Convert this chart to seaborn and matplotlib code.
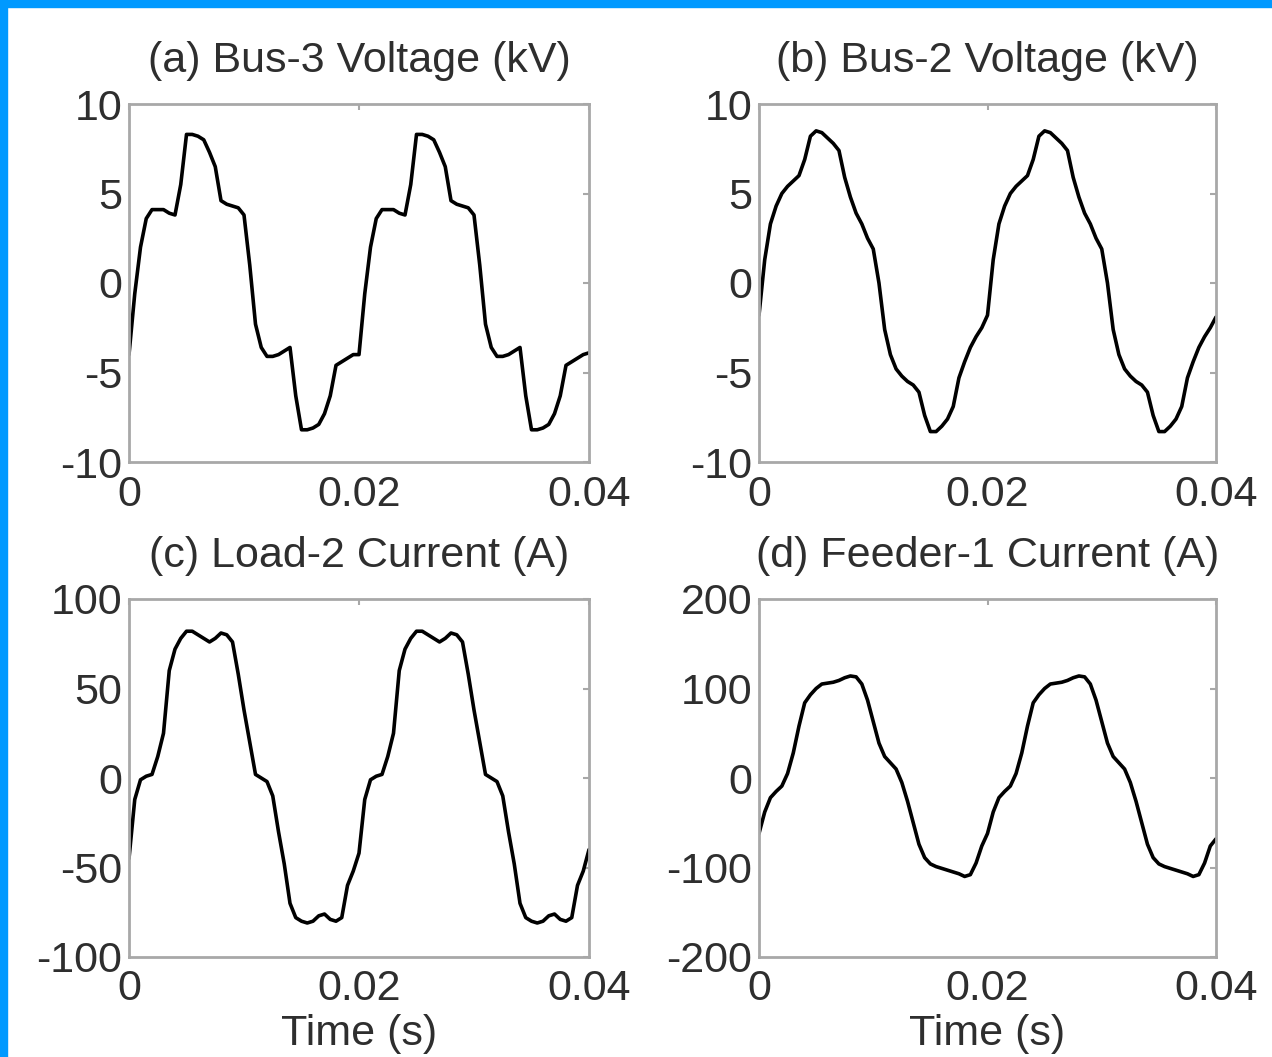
import numpy as np
import pandas as pd
import seaborn as sns
from matplotlib import pyplot as plt
from matplotlib.patches import Rectangle

# sample times, 0.5 ms grid over two 50 Hz cycles
time_s = np.linspace(0, 0.04, 81)

bus3_kv = [-4.0, -0.6, 2.0, 3.6, 4.1, 4.1, 4.1, 3.9, 3.8, 5.5,
           8.3, 8.3, 8.2, 8.0, 7.3, 6.5, 4.6, 4.4, 4.3, 4.2,
           3.8, 1.0, -2.3, -3.6, -4.1, -4.1, -4.0, -3.8, -3.6, -6.3,
           -8.2, -8.2, -8.1, -7.9, -7.3, -6.3, -4.6, -4.4, -4.2, -4.0,
           -4.0, -0.6, 2.0, 3.6, 4.1, 4.1, 4.1, 3.9, 3.8, 5.5,
           8.3, 8.3, 8.2, 8.0, 7.3, 6.5, 4.6, 4.4, 4.3, 4.2,
           3.8, 1.0, -2.3, -3.6, -4.1, -4.1, -4.0, -3.8, -3.6, -6.3,
           -8.2, -8.2, -8.1, -7.9, -7.3, -6.3, -4.6, -4.4, -4.2, -4.0,
           -3.9]

bus2_kv = [-1.8, 1.3, 3.3, 4.3, 5.0, 5.4, 5.7, 6.0, 6.9, 8.2,
           8.5, 8.4, 8.1, 7.8, 7.4, 5.9, 4.8, 3.9, 3.3, 2.5,
           1.9, 0.0, -2.6, -4.0, -4.8, -5.2, -5.5, -5.7, -6.1, -7.4,
           -8.3, -8.3, -8.0, -7.6, -6.9, -5.3, -4.4, -3.6, -3.0, -2.5,
           -1.8, 1.3, 3.3, 4.3, 5.0, 5.4, 5.7, 6.0, 6.9, 8.2,
           8.5, 8.4, 8.1, 7.8, 7.4, 5.9, 4.8, 3.9, 3.3, 2.5,
           1.9, 0.0, -2.6, -4.0, -4.8, -5.2, -5.5, -5.7, -6.1, -7.4,
           -8.3, -8.3, -8.0, -7.6, -6.9, -5.3, -4.4, -3.6, -3.0, -2.5,
           -1.9]

load2_a = [-45, -12, -1, 1, 2, 12, 25, 60, 72, 78,
           82, 82, 80, 78, 76, 78, 81, 80, 76, 58,
           38, 20, 2, 0, -2, -10, -30, -48, -70, -78,
           -80, -81, -80, -77, -76, -79, -80, -78, -60, -52,
           -42, -12, -1, 1, 2, 12, 25, 60, 72, 78,
           82, 82, 80, 78, 76, 78, 81, 80, 76, 58,
           38, 20, 2, 0, -2, -10, -30, -48, -70, -78,
           -80, -81, -80, -77, -76, -79, -80, -78, -60, -52,
           -40]

feeder1_a = [-62, -38, -22, -15, -9, 5, 28, 58, 84, 93,
             100, 105, 106, 107, 109, 112, 114, 113, 105, 87,
             63, 39, 24, 17, 10, -5, -26, -50, -74, -89,
             -96, -99, -101, -103, -105, -107, -110, -108, -95, -76,
             -62, -38, -22, -15, -9, 5, 28, 58, 84, 93,
             100, 105, 106, 107, 109, 112, 114, 113, 105, 87,
             63, 39, 24, 17, 10, -5, -26, -50, -74, -89,
             -96, -99, -101, -103, -105, -107, -110, -108, -95, -76,
             -68]

titles = ['(a) Bus-3 Voltage (kV)', '(b) Bus-2 Voltage (kV)',
          '(c) Load-2 Current (A)', '(d) Feeder-1 Current (A)']
series = [bus3_kv, bus2_kv, load2_a, feeder1_a]
yticks_all = [[-10, -5, 0, 5, 10], [-10, -5, 0, 5, 10],
              [-100, -50, 0, 50, 100], [-200, -100, 0, 100, 200]]
xticks = [0, 0.02, 0.04]
xtick_labels = ['0', '0.02', '0.04']

sns.set_style('white')
plt.rcParams['font.family'] = ['Liberation Sans', 'DejaVu Sans']
plt.rcParams['axes.unicode_minus'] = False

W, H = 1272, 1057
fig = plt.figure(figsize=(W / 100, H / 100), dpi=100)
fig.patch.set_facecolor('white')

# axes boxes in pixels: left, top, right, bottom
boxes_px = [(129, 104, 589, 462), (759, 104, 1216, 462),
            (129, 599, 589, 957), (759, 599, 1216, 957)]

txt_col = '#2e2e2e'
grey = '#a8a8a8'
fs = 31

for i, (box, vals, title, yt) in enumerate(zip(boxes_px, series, titles, yticks_all)):
    l, t, r, b = box
    ax = fig.add_axes([l / W, 1 - b / H, (r - l) / W, (b - t) / H])
    df = pd.DataFrame({'time': time_s, 'value': vals})
    sns.lineplot(data=df, x='time', y='value', ax=ax, color='black', linewidth=2.6)
    ax.set_xlim(0, 0.04)
    ax.set_ylim(yt[0], yt[-1])
    ax.set_xticks(xticks)
    ax.set_xticklabels(xtick_labels)
    ax.set_yticks(yt)
    ax.set_yticklabels([str(v) for v in yt])
    ax.set_title(title, fontsize=fs, color=txt_col, pad=23)
    ax.set_ylabel('')
    if i >= 2:
        ax.set_xlabel('Time (s)', fontsize=fs, color=txt_col, labelpad=3)
    else:
        ax.set_xlabel('')
    for sp in ax.spines.values():
        sp.set_color(grey)
        sp.set_linewidth(2.0)
    ax.tick_params(axis='both', direction='in', length=4, width=1.5, color=grey,
                   top=True, right=True, labelsize=fs, labelcolor=txt_col)
    ax.tick_params(axis='x', pad=9)
    ax.tick_params(axis='y', pad=5)

# blue frame strips on top and left edges
fig.add_artist(Rectangle((0, 1 - 7 / H), 1, 7 / H, transform=fig.transFigure,
                         color='#0099ff', zorder=10))
fig.add_artist(Rectangle((0, 0), 7 / W, 1, transform=fig.transFigure,
                         color='#0099ff', zorder=10))

fig.savefig('out.png', dpi=100)
